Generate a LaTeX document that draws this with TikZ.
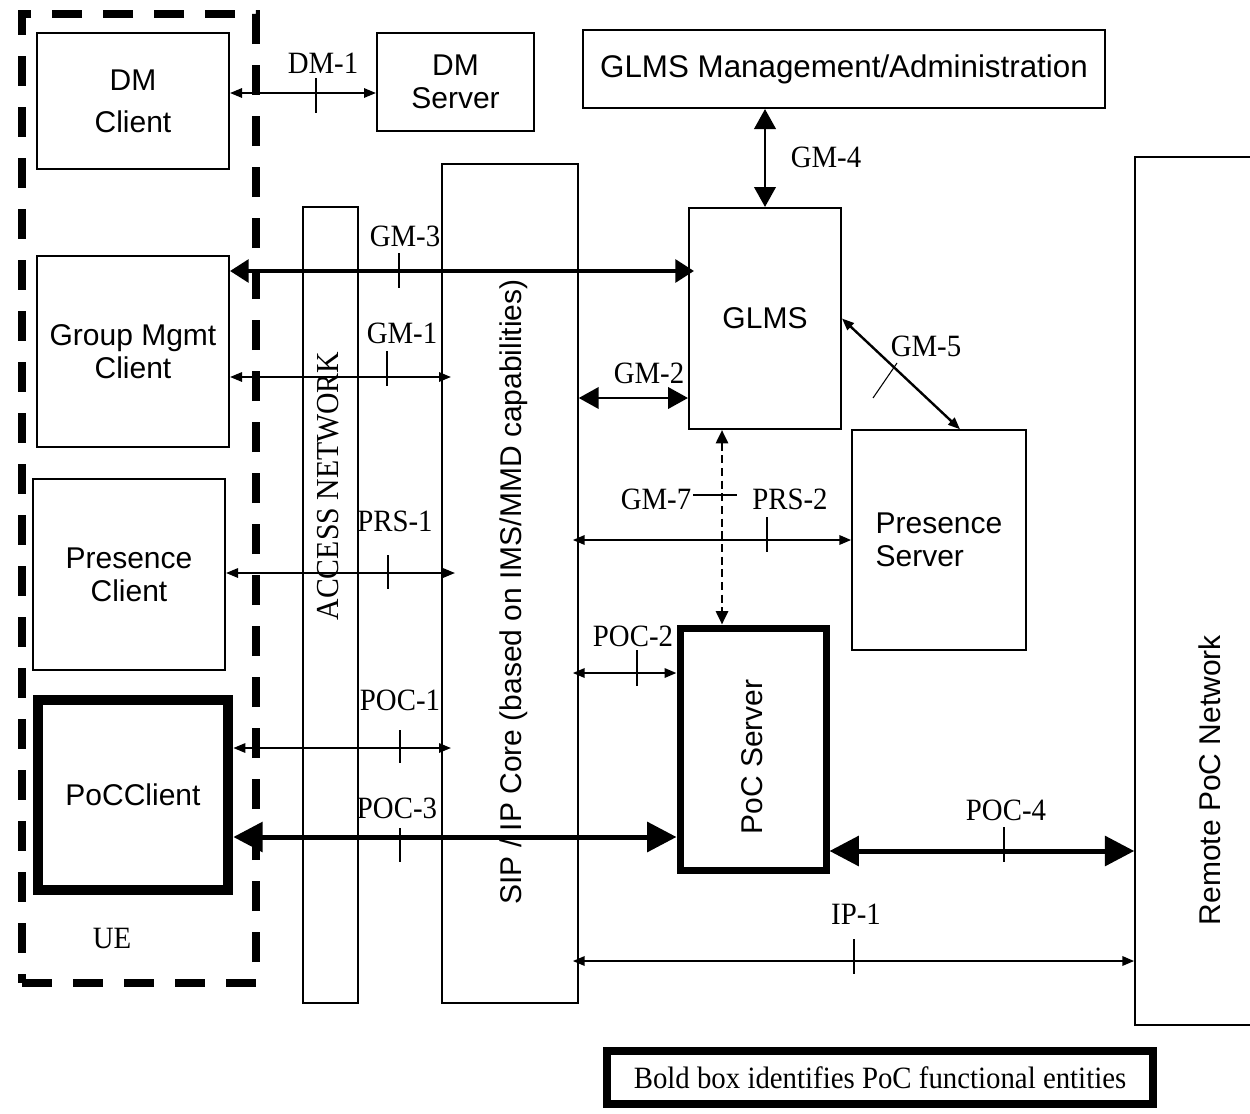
\documentclass[tikz,border=0pt]{standalone}
\usepackage{fontspec}
\setmainfont{Liberation Serif}[FakeStretch=0.93]
\setsansfont{Liberation Sans}
\usetikzlibrary{arrows.meta,fit,calc}
\newdimen\pxu \pxu=0.75pt
\newcommand\sanstext{\sffamily\fontsize{22.5pt}{24.75pt}\selectfont}
\newcommand\seriftext{\rmfamily\fontsize{23.25pt}{25pt}\selectfont}
\begin{document}
\begin{tikzpicture}[x=0.75pt,y=-0.75pt,
  box/.style={draw, line width=1.5pt, inner sep=0pt, font=\sanstext, align=center},
  sized/.style 2 args={minimum width=#1\pxu, minimum height=#2\pxu},
  column/.style={draw, line width=1.1pt, inner sep=0pt},
  boldbox/.style={draw, line width=7.5pt, inner sep=0pt, font=\sanstext, align=center},
  uebox/.style={draw, line width=6pt, dash pattern=on 22.5pt off 15.75pt, inner sep=0pt},
  lbl/.style={font=\seriftext, inner sep=0pt},
  vtext/.style={rotate=90, inner sep=0pt},
  tk/.style={line width=0.8pt},
  thinarr/.style={line width=1.5pt, {Triangle[length=9pt,width=7pt]}-{Triangle[length=9pt,width=7pt]}},
  medarr/.style={line width=2.2pt, {Triangle[length=15pt,width=16pt]}-{Triangle[length=15pt,width=16pt]}},
  gmarr/.style={line width=3pt, {Triangle[length=14pt,width=17pt]}-{Triangle[length=14pt,width=17pt]}},
  bigarr/.style={line width=3.75pt, {Triangle[length=22pt,width=22pt]}-{Triangle[length=22pt,width=22pt]}},
  dasharr/.style={line width=2pt, dash pattern=on 6pt off 3.5pt, {Triangle[length=10pt,width=9pt]}-{Triangle[length=10pt,width=9pt]}}
]
\useasboundingbox (0,0) rectangle (1250,1114);

% user equipment group
\node[uebox, fit={(22,14) (256,983)}] (ue) {};
\node[lbl] (uelbl) at (112,938) {UE};

% client boxes
\node[box, sized={192}{136}] (dmc) at (133,101) {DM\\[7pt]Client};
\node[box, sized={192}{191}] (gmc) at (133,351.5) {Group Mgmt\\Client};
\node[box, sized={192}{191}] (pc) at (129,574.5) {Presence\\Client};
\node[boldbox, line width=8pt, sized={190}{190}] (pocc) at (133,795) {PoCClient};

% servers
\node[box, sized={157}{98}] (dms) at (455.5,82) {DM\\Server};
\node[box, sized={522}{78}, font=\sffamily\fontsize{23.5pt}{26pt}\selectfont] (mgmt) at (844,69) {GLMS Management/Administration};
\node[box, sized={152}{221}] (glms) at (765,318.5) {GLMS};
\node[box, line width=1.1pt, align=left, sized={174}{220}] (ps) at (939,540) {Presence\\Server};
\node[boldbox, line width=5.25pt, sized={146}{242}] (pocs) at (753,749) {};
\node[vtext, font=\sanstext] (pocstxt) at (752,757) {PoC Server};

% network columns
\node[column, fit={(303,207) (358,1003)}] (acc) {};
\node[vtext, font=\rmfamily\fontsize{24pt}{26pt}\selectfont] (acctxt) at (328,486) {ACCESS NETWORK};
\node[column, fit={(442,164) (578,1003)}] (sip) {};
\node[vtext, font=\sanstext] (siptxt) at (514,592) {SIP / IP Core (based on IMS/MMD capabilities)};
\node[column, fit={(1135,157) (1262,1025)}] (rpn) {};
\node[vtext, font=\sanstext] (rpntxt) at (1210,780) {Remote PoC Network};

% legend
\node[boldbox, line width=6pt, font=\seriftext, sized={546}{53}] (legend) at (880,1077.5) {Bold box identifies PoC functional entities};

% free ends of connectors
\coordinate (sipR) at ([xshift=-6\pxu]sip.east);
\coordinate (gm1e) at (451,377);
\coordinate (prs1e) at (455,573);
\coordinate (poc1e) at (451,748);

% reference points
\draw[thinarr] (dmc.east |- 0,93) -- (dms.west |- 0,93);
\draw[gmarr] (gmc.east |- 0,271) -- ([xshift=6\pxu]glms.west |- 0,271);
\draw[thinarr] (gmc.east |- gm1e) -- (gm1e);
\draw[medarr] (sip.east |- 0,398) -- (glms.west |- 0,398);
\draw[medarr] (glms.north) -- (glms.north |- mgmt.south);
\draw[thinarr, line width=1.8pt] (glms.east) -- ([xshift=21\pxu]ps.north);
\draw[thinarr] (pc.east |- prs1e) -- (prs1e);
\draw[thinarr, line width=1.8pt] (sipR |- 0,540) -- (ps.west |- 0,540);
\draw[dasharr] (glms.south -| 722,0) -- (pocs.north -| 722,0);
\draw[thinarr, line width=1.8pt] (sipR |- 0,673) -- (pocs.west |- 0,673);
\draw[thinarr] (pocc.east |- poc1e) -- (poc1e);
\draw[bigarr] (pocc.east |- 0,837) -- (pocs.west |- 0,837);
\draw[bigarr] (pocs.east |- 0,851) -- (rpn.west |- 0,851);
\draw[thinarr, line width=1.8pt] (sipR |- 0,961) -- (rpn.west |- 0,961);

% interface ticks
\draw[tk] (316,78) -- (316,113);
\draw[tk] (399,253) -- (399,288);
\draw[tk] (387,351) -- (387,386);
\draw[tk] (873,398) -- (897,363);
\draw[tk] (388,555) -- (388,589);
\draw[tk] (767,517) -- (767,552);
\draw[tk] (693,495) -- (737,495);
\draw[tk] (637,650) -- (637,686);
\draw[tk] (400,730) -- (400,763);
\draw[tk] (400,828) -- (400,862);
\draw[tk] (1004,827) -- (1004,862);
\draw[tk] (854,939) -- (854,974);

% interface names
\node[lbl] (ldm1) at (323,63) {DM-1};
\node[lbl] (lgm4) at (826,157) {GM-4};
\node[lbl] (lgm3) at (405,236) {GM-3};
\node[lbl] (lgm1) at (402,333) {GM-1};
\node[lbl] (lgm2) at (649,373) {GM-2};
\node[lbl] (lgm5) at (926,346) {GM-5};
\node[lbl] (lprs1) at (395,521) {PRS-1};
\node[lbl] (lgm7) at (656,499) {GM-7};
\node[lbl] (lprs2) at (790,499) {PRS-2};
\node[lbl] (lpoc2) at (633,636) {POC-2};
\node[lbl] (lpoc1) at (400,700) {POC-1};
\node[lbl] (lpoc3) at (397,808) {POC-3};
\node[lbl] (lpoc4) at (1006,810) {POC-4};
\node[lbl] (lip1) at (856,914) {IP-1};
\end{tikzpicture}
\end{document}
